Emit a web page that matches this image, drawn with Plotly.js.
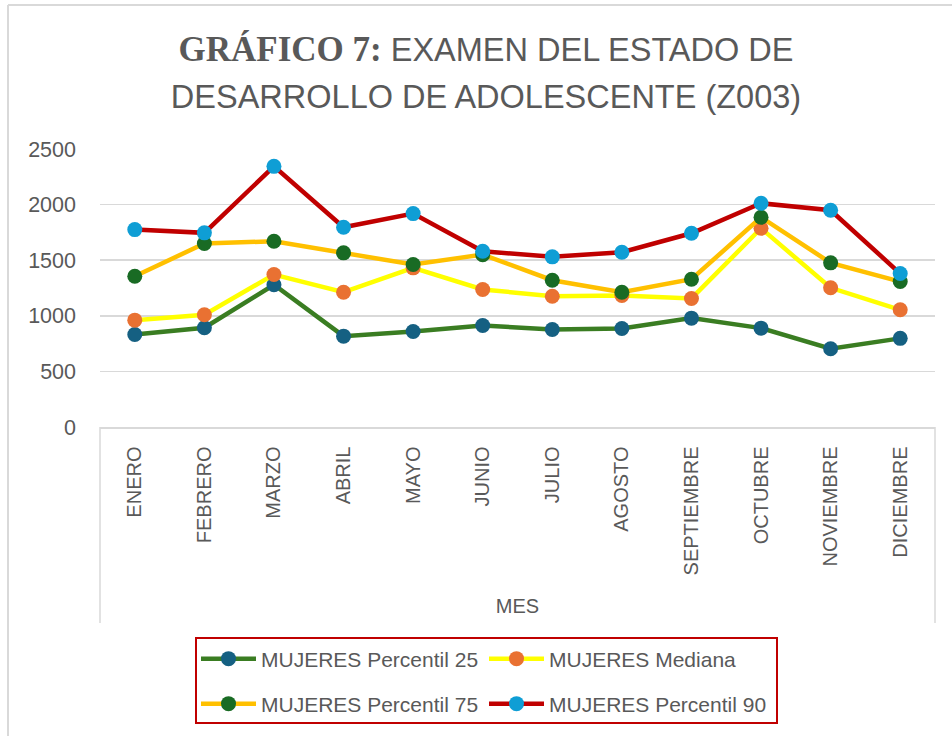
<!DOCTYPE html>
<html>
<head>
<meta charset="utf-8">
<script src="https://cdn.plot.ly/plotly-3.0.1.min.js"></script>
<style>html,body{margin:0;padding:0;background:#fff;}#chart{width:952px;height:736px;}</style>
</head>
<body>
<div id="chart"></div>
<script>
const months = ["ENERO","FEBRERO","MARZO","ABRIL","MAYO","JUNIO","JULIO","AGOSTO","SEPTIEMBRE","OCTUBRE","NOVIEMBRE","DICIEMBRE"];
const p25    = [832, 893, 1279, 817, 859, 913, 877, 886, 979, 889, 704, 797];
const mediana= [961, 1009, 1371, 1212, 1431, 1237, 1176, 1183, 1156, 1787, 1252, 1054];
const p75    = [1356, 1650, 1670, 1566, 1461, 1550, 1320, 1212, 1329, 1886, 1476, 1308];
const p90    = [1775, 1746, 2344, 1796, 1919, 1581, 1530, 1572, 1742, 2012, 1949, 1380];
const seriesNames = ["MUJERES Percentil 25","MUJERES Mediana","MUJERES Percentil 75","MUJERES Percentil 90"];
const yTicks = [0, 500, 1000, 1500, 2000, 2500];

const lineColors = ["#3a7d22", "#ffff00", "#ffc000", "#c00000"];
const markerColors = ["#156082", "#e97132", "#196b24", "#0f9ed5"];
const legends = ["legend", "legend", "legend2", "legend2"];
const values = [p25, mediana, p75, p90];

const traces = values.map((v, i) => ({
  type: "scatter",
  mode: "lines+markers",
  x: months,
  y: v,
  name: seriesNames[i],
  legend: legends[i],
  line: {color: lineColors[i], width: 4.5},
  marker: {color: markerColors[i], size: 15},
  hoverinfo: "x+y+name"
}));

const plotL = 100, plotR = 935, plotT = 149, plotB = 427;
const pw = plotR - plotL, ph = plotB - plotT;
const px = x => (x - plotL) / pw;
const py = y => (plotB - y) / ph;

const grey = "#d9d9d9";
const txt = "#595959";

const layout = {
  width: 952, height: 736,
  paper_bgcolor: "#fff", plot_bgcolor: "#fff",
  margin: {l: plotL, r: 952 - plotR, t: plotT, b: 736 - plotB, pad: 0},
  font: {family: "Liberation Sans, Arial, sans-serif", color: txt},
  title: {
    text: "<span style=\"font-family:'Liberation Serif',serif;font-size:35px\"><b>GRÁFICO 7:</b></span><span style=\"font-size:32.5px\"> EXAMEN DEL ESTADO DE</span><br><span style=\"font-size:32.5px\">DESARROLLO DE ADOLESCENTE (Z003)</span>",
    font: {family: "Liberation Sans, Arial, sans-serif", size: 36, color: txt},
    x: 486 / 952, xanchor: "center", xref: "container",
    y: 1 - 61 / 736, yanchor: "top", yref: "container"
  },
  xaxis: {
    type: "category",
    range: [-0.5, 11.5],
    tickangle: -90,
    tickfont: {size: 20, color: txt},
    showgrid: false,
    showline: true, linecolor: grey, linewidth: 1.5,
    ticks: "",
    ticklabelstandoff: 10,
    title: {text: "MES", font: {size: 20, color: txt}, standoff: 24},
    fixedrange: true
  },
  yaxis: {
    range: [0, 2500],
    tickvals: yTicks,
    ticktext: yTicks.map(String),
    tickfont: {size: 21.5, color: txt},
    showgrid: true, gridcolor: grey, gridwidth: 1.5,
    zeroline: false, showline: false,
    ticks: "",
    ticklabelstandoff: 23,
    fixedrange: true
  },
  showlegend: true,
  legend: {
    orientation: "h",
    x: px(196), xanchor: "left", xref: "paper",
    y: py(659), yanchor: "middle", yref: "paper",
    font: {size: 21, color: txt},
    bgcolor: "rgba(0,0,0,0)",
    itemwidth: 55,
    entrywidth: 218, entrywidthmode: "pixels",
    traceorder: "normal"
  },
  legend2: {
    orientation: "h",
    x: px(196), xanchor: "left", xref: "paper",
    y: py(704), yanchor: "middle", yref: "paper",
    font: {size: 21, color: txt},
    bgcolor: "rgba(0,0,0,0)",
    itemwidth: 55,
    entrywidth: 218, entrywidthmode: "pixels",
    traceorder: "normal"
  },
  shapes: [
    {type: "line", xref: "paper", yref: "paper", x0: 0, x1: 0, y0: 0, y1: py(623), line: {color: grey, width: 1.5}},
    {type: "line", xref: "paper", yref: "paper", x0: 1, x1: 1, y0: 0, y1: py(623), line: {color: grey, width: 1.5}},
    {type: "rect", xref: "paper", yref: "paper", x0: px(196), x1: px(777), y0: py(638), y1: py(723), line: {color: "#c00000", width: 2}, fillcolor: "rgba(0,0,0,0)"},
    {type: "line", xref: "paper", yref: "paper", x0: px(8), x1: px(8), y0: py(5), y1: py(760), line: {color: grey, width: 2}},
    {type: "line", xref: "paper", yref: "paper", x0: px(8), x1: px(990), y0: py(5), y1: py(5), line: {color: grey, width: 2}}
  ]
};

Plotly.newPlot("chart", traces, layout, {displayModeBar: false, staticPlot: true});
</script>
</body>
</html>
